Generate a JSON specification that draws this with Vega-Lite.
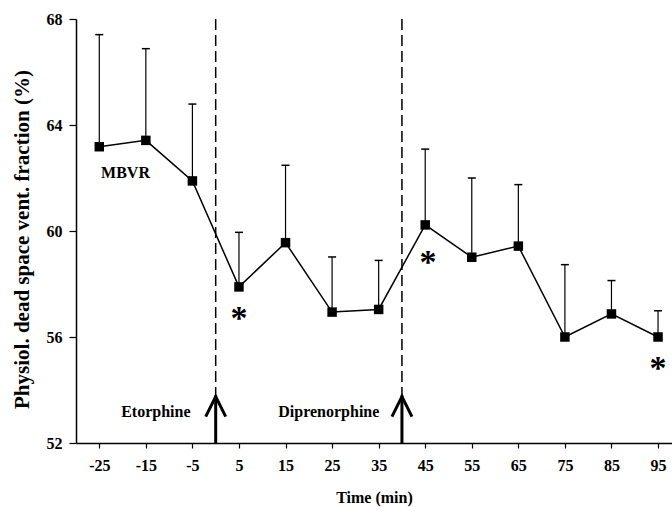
{
  "$schema": "https://vega.github.io/schema/vega-lite/v6.json",
  "width": 596,
  "height": 424,
  "autosize": {"type": "none"},
  "padding": {"left": 76, "top": 19, "right": 0, "bottom": 64},
  "background": "white",
  "datasets": {
    "series": [
      {"time": -25, "value": 63.18, "upper": 67.41},
      {"time": -15, "value": 63.42, "upper": 66.88},
      {"time": -5, "value": 61.89, "upper": 64.79},
      {"time": 5, "value": 57.89, "upper": 59.95},
      {"time": 15, "value": 59.56, "upper": 62.48},
      {"time": 25, "value": 56.94, "upper": 59.02},
      {"time": 35, "value": 57.04, "upper": 58.89},
      {"time": 45, "value": 60.23, "upper": 63.09},
      {"time": 55, "value": 59.01, "upper": 62.0},
      {"time": 65, "value": 59.43, "upper": 61.75},
      {"time": 75, "value": 56.0, "upper": 58.73},
      {"time": 85, "value": 56.87, "upper": 58.13},
      {"time": 95, "value": 56.0, "upper": 56.99}
    ],
    "events": [
      {"time": 0, "label": "Etorphine", "labelTime": -12.86},
      {"time": 40, "label": "Diprenorphine", "labelTime": 24.3}
    ],
    "stars": [
      {"time": 5, "value": 56.93, "label": "*"},
      {"time": 45.6, "value": 59.06, "label": "*"},
      {"time": 95, "value": 55.07, "label": "*"}
    ],
    "notes": [
      {"time": -19.37, "value": 62.19, "label": "MBVR"}
    ]
  },
  "config": {
    "view": {"stroke": null},
    "axis": {
      "grid": false,
      "domainColor": "black",
      "domainWidth": 1.5,
      "tickColor": "black",
      "tickWidth": 1.2,
      "labelColor": "black",
      "labelFont": "Liberation Serif",
      "labelFontWeight": "bold",
      "labelFontSize": 16,
      "titleColor": "black",
      "titleFont": "Liberation Serif",
      "titleFontWeight": "bold"
    },
    "axisX": {"tickSize": 5, "labelPadding": 9, "titlePadding": 16, "labelFlush": false, "titleFontSize": 16},
    "axisY": {"tickSize": 7, "labelPadding": 7, "titlePadding": 14, "titleFontSize": 21, "titleY": 220}
  },
  "layer": [
    {
      "mark": {"type": "rule", "color": "black", "strokeWidth": 1.5},
      "encoding": {
        "y": {"datum": 68, "type": "quantitative", "scale": {"domain": [52, 68], "nice": false, "zero": false}, "axis": {"values": [52, 56, 60, 64, 68]}, "title": "Physiol. dead space vent. fraction (%)"}
      }
    },
    {
      "data": {"name": "events"},
      "mark": {"type": "rule", "color": "black", "strokeWidth": 1.5, "strokeDash": [11, 5]},
      "encoding": {
        "x": {"field": "time", "type": "quantitative", "scale": {"domain": [-30, 98], "nice": false, "zero": false}, "axis": {"values": [-25, -15, -5, 5, 15, 25, 35, 45, 55, 65, 75, 85, 95], "labelExpr": "toString(datum.value)"}, "title": "Time (min)"},
        "y": {"datum": 68, "type": "quantitative", "scale": {"domain": [52, 68], "nice": false, "zero": false}, "axis": {"values": [52, 56, 60, 64, 68]}, "title": "Physiol. dead space vent. fraction (%)"},
        "y2": {"datum": 53.75}
      }
    },
    {
      "data": {"name": "events"},
      "mark": {"type": "rule", "color": "black", "strokeWidth": 3},
      "encoding": {
        "x": {"field": "time", "type": "quantitative", "scale": {"domain": [-30, 98], "nice": false, "zero": false}, "axis": {"values": [-25, -15, -5, 5, 15, 25, 35, 45, 55, 65, 75, 85, 95], "labelExpr": "toString(datum.value)"}, "title": "Time (min)"},
        "y": {"datum": 52, "type": "quantitative", "scale": {"domain": [52, 68], "nice": false, "zero": false}, "axis": {"values": [52, 56, 60, 64, 68]}, "title": "Physiol. dead space vent. fraction (%)"},
        "y2": {"datum": 53.8}
      }
    },
    {
      "data": {"name": "events"},
      "mark": {"type": "point", "shape": "M-1,1L0,-1L1,1", "size": 400, "filled": false, "stroke": "black", "strokeWidth": 3, "strokeJoin": "miter", "opacity": 1},
      "encoding": {
        "x": {"field": "time", "type": "quantitative", "scale": {"domain": [-30, 98], "nice": false, "zero": false}, "axis": {"values": [-25, -15, -5, 5, 15, 25, 35, 45, 55, 65, 75, 85, 95], "labelExpr": "toString(datum.value)"}, "title": "Time (min)"},
        "y": {"datum": 53.37, "type": "quantitative", "scale": {"domain": [52, 68], "nice": false, "zero": false}, "axis": {"values": [52, 56, 60, 64, 68]}, "title": "Physiol. dead space vent. fraction (%)"}
      }
    },
    {
      "data": {"name": "events"},
      "mark": {"type": "text", "font": "Liberation Serif", "fontWeight": "bold", "fontSize": 16, "color": "black", "baseline": "middle", "align": "center"},
      "encoding": {
        "x": {"field": "labelTime", "type": "quantitative", "scale": {"domain": [-30, 98], "nice": false, "zero": false}, "axis": {"values": [-25, -15, -5, 5, 15, 25, 35, 45, 55, 65, 75, 85, 95], "labelExpr": "toString(datum.value)"}, "title": "Time (min)"},
        "y": {"datum": 53.18, "type": "quantitative", "scale": {"domain": [52, 68], "nice": false, "zero": false}, "axis": {"values": [52, 56, 60, 64, 68]}, "title": "Physiol. dead space vent. fraction (%)"},
        "text": {"field": "label"}
      }
    },
    {
      "data": {"name": "series"},
      "mark": {"type": "rule", "color": "black", "strokeWidth": 1.2},
      "encoding": {
        "x": {"field": "time", "type": "quantitative", "scale": {"domain": [-30, 98], "nice": false, "zero": false}, "axis": {"values": [-25, -15, -5, 5, 15, 25, 35, 45, 55, 65, 75, 85, 95], "labelExpr": "toString(datum.value)"}, "title": "Time (min)"},
        "y": {"field": "value", "type": "quantitative", "scale": {"domain": [52, 68], "nice": false, "zero": false}, "axis": {"values": [52, 56, 60, 64, 68]}, "title": "Physiol. dead space vent. fraction (%)"},
        "y2": {"field": "upper"}
      }
    },
    {
      "data": {"name": "series"},
      "mark": {"type": "tick", "orient": "horizontal", "color": "black", "size": 8, "thickness": 1.5, "opacity": 1},
      "encoding": {
        "x": {"field": "time", "type": "quantitative", "scale": {"domain": [-30, 98], "nice": false, "zero": false}, "axis": {"values": [-25, -15, -5, 5, 15, 25, 35, 45, 55, 65, 75, 85, 95], "labelExpr": "toString(datum.value)"}, "title": "Time (min)"},
        "y": {"field": "upper", "type": "quantitative", "scale": {"domain": [52, 68], "nice": false, "zero": false}, "axis": {"values": [52, 56, 60, 64, 68]}, "title": "Physiol. dead space vent. fraction (%)"}
      }
    },
    {
      "data": {"name": "series"},
      "mark": {"type": "line", "color": "black", "strokeWidth": 1.5},
      "encoding": {
        "x": {"field": "time", "type": "quantitative", "scale": {"domain": [-30, 98], "nice": false, "zero": false}, "axis": {"values": [-25, -15, -5, 5, 15, 25, 35, 45, 55, 65, 75, 85, 95], "labelExpr": "toString(datum.value)"}, "title": "Time (min)"},
        "y": {"field": "value", "type": "quantitative", "scale": {"domain": [52, 68], "nice": false, "zero": false}, "axis": {"values": [52, 56, 60, 64, 68]}, "title": "Physiol. dead space vent. fraction (%)"}
      }
    },
    {
      "data": {"name": "series"},
      "mark": {"type": "point", "shape": "square", "filled": true, "color": "black", "size": 90, "opacity": 1},
      "encoding": {
        "x": {"field": "time", "type": "quantitative", "scale": {"domain": [-30, 98], "nice": false, "zero": false}, "axis": {"values": [-25, -15, -5, 5, 15, 25, 35, 45, 55, 65, 75, 85, 95], "labelExpr": "toString(datum.value)"}, "title": "Time (min)"},
        "y": {"field": "value", "type": "quantitative", "scale": {"domain": [52, 68], "nice": false, "zero": false}, "axis": {"values": [52, 56, 60, 64, 68]}, "title": "Physiol. dead space vent. fraction (%)"}
      }
    },
    {
      "data": {"name": "stars"},
      "mark": {"type": "text", "font": "Liberation Serif", "fontWeight": "bold", "fontSize": 34, "color": "black", "baseline": "alphabetic", "align": "center", "dy": 17},
      "encoding": {
        "x": {"field": "time", "type": "quantitative", "scale": {"domain": [-30, 98], "nice": false, "zero": false}, "axis": {"values": [-25, -15, -5, 5, 15, 25, 35, 45, 55, 65, 75, 85, 95], "labelExpr": "toString(datum.value)"}, "title": "Time (min)"},
        "y": {"field": "value", "type": "quantitative", "scale": {"domain": [52, 68], "nice": false, "zero": false}, "axis": {"values": [52, 56, 60, 64, 68]}, "title": "Physiol. dead space vent. fraction (%)"},
        "text": {"field": "label"}
      }
    },
    {
      "data": {"name": "notes"},
      "mark": {"type": "text", "font": "Liberation Serif", "fontWeight": "bold", "fontSize": 16, "color": "black", "baseline": "middle", "align": "center"},
      "encoding": {
        "x": {"field": "time", "type": "quantitative", "scale": {"domain": [-30, 98], "nice": false, "zero": false}, "axis": {"values": [-25, -15, -5, 5, 15, 25, 35, 45, 55, 65, 75, 85, 95], "labelExpr": "toString(datum.value)"}, "title": "Time (min)"},
        "y": {"field": "value", "type": "quantitative", "scale": {"domain": [52, 68], "nice": false, "zero": false}, "axis": {"values": [52, 56, 60, 64, 68]}, "title": "Physiol. dead space vent. fraction (%)"},
        "text": {"field": "label"}
      }
    }
  ]
}
